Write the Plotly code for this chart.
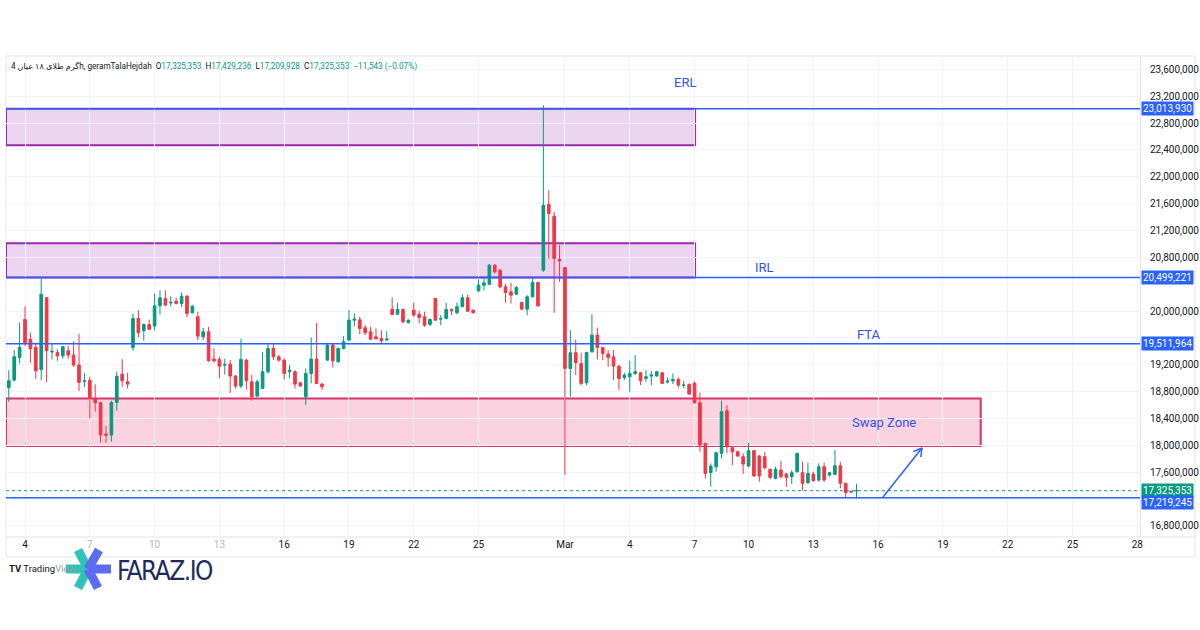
import plotly.graph_objects as go

# ---------------- data (prices in millions) ----------------
opens = [18.858, 18.972, 19.31, 19.875, 19.58, 19.46, 19.13, 20.20, 19.39, 19.384,
         19.334, 19.41, 19.345, 19.196, 18.95, 18.97, 18.70, 18.635, 18.17, 18.154,
         18.64, 19.06, 18.947, 19.458, 19.89, 19.706, 19.80, 19.776, 20.078, 20.188,
         20.12, 20.148, 20.113, 20.222, 19.974, 19.915, 19.617, 19.692, 19.285, 19.28,
         19.195, 19.21, 19.032, 18.883, 19.27, 18.947, 18.734, 18.848, 19.096, 19.444,
         19.32, 19.27, 19.096, 19.096, 18.932, 18.724, 19.07, 19.285, 18.913, 19.27,
         19.493, 19.245, 19.444, 19.568, 19.865, 19.87, 19.751, 19.692, 19.617, 19.592,
         19.568, 20.029, 19.954, 20.024, 19.826, 20.014, 19.954, 19.915, 19.801, 20.188,
         19.88, 19.89, 20.024, 19.974, 20.064, 20.198, 20.014, 20.302, 20.386, 20.401,
         20.684, 20.609, 20.361, 20.287, 20.252, 20.128, 20.029, 20.212, 20.426, 20.609,
         21.586, 21.413, 20.768, 20.649, 19.146, 19.379, 19.22, 18.932, 19.394, 19.642,
         19.458, 19.359, 19.32, 19.18, 19.012, 19.022, 19.071, 19.081, 18.997, 19.032,
         19.032, 19.081, 18.943, 18.962, 18.982, 18.893, 18.908, 18.923, 18.635, 18.03,
         17.593, 17.682, 17.881, 18.516, 17.965, 17.906, 17.831, 17.692, 17.921, 17.841,
         17.831, 17.643, 17.509, 17.633, 17.573, 17.534, 17.608, 17.593, 17.445, 17.573,
         17.484, 17.682, 17.558, 17.568, 17.697, 17.435, 17.316, 17.325353]
highs = [19.12, 19.42, 19.83, 20.07, 19.68, 19.53, 20.485, 20.21, 19.52, 19.43,
         19.48, 19.48, 19.55, 19.66, 19.08, 19.02, 18.91, 18.65, 18.29, 18.665,
         19.097, 19.285, 19.08, 19.964, 20.014, 19.816, 19.875, 20.262, 20.31, 20.31,
         20.22, 20.198, 20.277, 20.237, 20.088, 19.99, 19.751, 19.766, 19.444, 19.32,
         19.29, 19.27, 19.047, 19.59, 19.29, 19.047, 18.982, 19.394, 19.518, 19.518,
         19.345, 19.295, 19.2, 19.12, 18.947, 19.146, 19.607, 19.825, 18.93, 19.528,
         19.518, 19.458, 19.627, 20.014, 19.964, 19.915, 19.79, 19.766, 19.741, 19.716,
         19.702, 20.202, 20.123, 20.039, 19.875, 20.128, 20.004, 19.99, 19.89, 20.19,
         19.94, 20.123, 20.039, 20.128, 20.247, 20.247, 20.024, 20.47, 20.485, 20.698,
         20.698, 20.62, 20.401, 20.421, 20.371, 20.138, 20.237, 20.485, 20.436, 23.064,
         21.80, 21.477, 20.981, 20.659, 19.716, 19.577, 19.379, 19.394, 19.954, 19.756,
         19.468, 19.419, 19.419, 19.195, 19.082, 19.26, 19.344, 19.096, 19.121, 19.106,
         19.111, 19.096, 19.012, 19.071, 19.012, 18.962, 18.923, 18.948, 18.784, 18.04,
         17.732, 17.906, 18.665, 18.6, 17.98, 17.921, 17.881, 18.04, 17.93, 17.856,
         17.906, 17.658, 17.682, 17.772, 17.593, 17.633, 17.891, 17.757, 17.742, 17.608,
         17.732, 17.742, 17.608, 17.93, 17.757, 17.445, 17.325, 17.429236]
lows = [18.65, 18.95, 19.22, 19.48, 19.23, 18.99, 18.97, 18.94, 19.28, 19.26,
        19.29, 19.29, 19.17, 18.81, 18.87, 18.40, 18.50, 18.04, 18.04, 18.055,
        18.516, 18.873, 18.85, 19.41, 19.607, 19.558, 19.716, 19.716, 19.95, 20.07,
        20.07, 20.098, 20.06, 19.905, 19.964, 19.568, 19.568, 19.245, 19.23, 19.0,
        19.05, 18.78, 18.848, 18.85, 18.83, 18.665, 18.724, 18.84, 19.07, 19.27,
        19.245, 18.98, 19.0, 18.848, 18.873, 18.60, 18.923, 18.913, 18.823, 19.26,
        19.16, 19.23, 19.43, 19.56, 19.776, 19.657, 19.642, 19.577, 19.577, 19.508,
        19.558, 19.94, 19.94, 19.816, 19.816, 19.915, 19.816, 19.766, 19.78, 19.855,
        19.79, 19.875, 19.94, 19.954, 20.06, 19.99, 19.964, 20.287, 20.31, 20.386,
        20.56, 20.336, 20.123, 20.113, 20.237, 20.014, 19.94, 20.202, 20.064, 20.584,
        20.783, 19.974, 20.435, 17.559, 18.724, 19.047, 18.898, 18.898, 19.38, 19.28,
        19.27, 19.17, 18.972, 18.823, 18.972, 18.799, 19.047, 18.898, 18.948, 18.898,
        19.022, 18.913, 18.923, 18.913, 18.858, 18.848, 18.749, 18.625, 17.906, 17.509,
        17.385, 17.608, 17.806, 17.881, 17.707, 17.831, 17.573, 17.682, 17.534, 17.459,
        17.643, 17.494, 17.494, 17.509, 17.385, 17.425, 17.593, 17.325, 17.425, 17.459,
        17.459, 17.459, 17.534, 17.558, 17.36, 17.211, 17.296, 17.209928]
closes = [18.962, 19.32, 19.46, 19.528, 19.44, 19.11, 20.25, 19.41, 19.40, 19.334,
          19.468, 19.345, 19.196, 18.938, 18.96, 18.71, 18.635, 18.154, 18.15, 18.64,
          19.03, 18.962, 18.913, 19.89, 19.677, 19.80, 19.73, 20.078, 20.198, 20.09,
          20.13, 20.113, 20.222, 19.964, 20.073, 19.627, 19.692, 19.26, 19.26, 19.18,
          19.205, 19.032, 18.883, 19.28, 18.962, 18.724, 18.947, 19.096, 19.444, 19.32,
          19.27, 19.07, 19.12, 18.913, 18.883, 19.07, 19.285, 18.923, 18.873, 19.493,
          19.26, 19.444, 19.543, 19.865, 19.88, 19.74, 19.677, 19.582, 19.587, 19.558,
          19.582, 19.95, 20.024, 19.84, 19.865, 19.94, 19.905, 19.79, 19.875, 19.865,
          19.89, 20.024, 20.004, 20.064, 20.198, 19.999, 19.974, 20.386, 20.42, 20.684,
          20.584, 20.361, 20.277, 20.237, 20.351, 20.029, 20.212, 20.426, 20.078, 21.576,
          21.452, 20.783, 20.748, 19.146, 19.379, 19.23, 18.923, 19.384, 19.642, 19.458,
          19.369, 19.31, 19.18, 18.997, 19.047, 19.071, 19.096, 18.962, 19.022, 19.047,
          19.096, 18.923, 18.957, 18.982, 18.898, 18.898, 18.764, 18.635, 18.005, 17.583,
          17.692, 17.891, 18.501, 17.98, 17.906, 17.841, 17.722, 17.921, 17.544, 17.544,
          17.668, 17.524, 17.643, 17.534, 17.524, 17.593, 17.881, 17.435, 17.583, 17.474,
          17.682, 17.484, 17.593, 17.697, 17.435, 17.296, 17.306, 17.325353]

# x-axis: candle index ticks (first 4h candle of each labelled day)
tick_index = [3, 15, 27, 39, 51, 63, 75, 87, 103, 115, 127, 137, 149, 161, 173, 185, 197, 209]
tick_labels = ["4", "7", "10", "13", "16", "19", "22", "25", "Mar",
               "4", "7", "10", "13", "16", "19", "22", "25", "28"]

# key levels
erl_level = 23013930
irl_level = 20499221
fta_level = 19511964
support_level = 17219245
last_price = 17325353
erl_zone = (22470000, 23013930)
irl_zone = (20499221, 21010000)
swap_zone = (17990000, 18700000)
y_ticks = list(range(16800000, 23600001, 400000))
# axis ticks whose labels sit under the level labels
y_ticks_hidden = [20400000, 19600000, 17200000]

M = 1e6
O = [v * M for v in opens]
H = [v * M for v in highs]
L = [v * M for v in lows]
C = [v * M for v in closes]
x_idx = list(range(len(O)))

UP = "#089981"
DN = "#F23645"
BLUE = "#2962FF"
FONT = "Roboto, 'DejaVu Sans', sans-serif"

# pixel helpers for decorations (plot area: x 6..1140, y 56..537)
PL, PR, PT, PB = 6, 1140, 56, 537
def px(xp):
    return (xp - PL) / (PR - PL)
def py(yp):
    return (PB - yp) / (PB - PT)

fig = go.Figure()
fig.add_trace(go.Candlestick(
    x=x_idx, open=O, high=H, low=L, close=C,
    increasing=dict(line=dict(color=UP, width=1), fillcolor=UP),
    decreasing=dict(line=dict(color=DN, width=1), fillcolor=DN),
    whiskerwidth=0, hoverinfo="skip", showlegend=False,
))

shapes = []
# zones
for z, fill, line in [(erl_zone, "rgba(156,39,176,0.2)", "#9C27B0"),
                      (irl_zone, "rgba(156,39,176,0.2)", "#9C27B0")]:
    shapes.append(dict(type="rect", xref="x", yref="y", x0=-0.52, x1=127.1,
                       y0=z[0], y1=z[1], fillcolor=fill,
                       line=dict(color=line, width=2), layer="below"))
shapes.append(dict(type="rect", xref="x", yref="y", x0=-0.52, x1=180.0,
                   y0=swap_zone[0], y1=swap_zone[1], fillcolor="rgba(233,30,99,0.2)",
                   line=dict(color="#D6336C", width=2), layer="below"))
# horizontal levels
for lvl in [erl_level, irl_level, fta_level, support_level]:
    shapes.append(dict(type="line", xref="paper", yref="y", x0=0, x1=1, y0=lvl, y1=lvl,
                       line=dict(color=BLUE, width=1.5), layer="above"))
shapes.append(dict(type="line", xref="paper", yref="y", x0=0, x1=1, y0=last_price, y1=last_price,
                   line=dict(color=UP, width=1, dash="dot"), layer="above"))
# arrow (shaft + open head)
shapes.append(dict(type="line", xref="paper", yref="paper", x0=px(883), y0=py(497),
                   x1=px(922), y1=py(448), line=dict(color=BLUE, width=1.5)))
shapes.append(dict(type="line", xref="paper", yref="paper", x0=px(913.5), y0=py(451.5),
                   x1=px(922), y1=py(448), line=dict(color=BLUE, width=1.5)))
shapes.append(dict(type="line", xref="paper", yref="paper", x0=px(920.8), y0=py(457),
                   x1=px(922), y1=py(448), line=dict(color=BLUE, width=1.5)))
# outer frame + axis area border
shapes.append(dict(type="rect", xref="paper", yref="paper", x0=px(6), x1=px(1195),
                   y0=py(557), y1=py(56), line=dict(color="#E0E3EB", width=1),
                   fillcolor="rgba(0,0,0,0)", layer="below"))
shapes.append(dict(type="line", xref="paper", yref="paper", x0=px(6), x1=px(1195),
                   y0=py(537), y1=py(537), line=dict(color="#E0E3EB", width=1)))
# FARAZ logo mark
cx, cy = 88, 569
teal, periw = "#2EC4B6", "#5C6CF0"
for (ex, ey, col) in [(78, 550, teal), (66, 569, teal), (78, 588, teal),
                      (99, 550, periw), (111, 569, periw), (98, 588, periw)]:
    shapes.append(dict(type="line", xref="paper", yref="paper", x0=px(cx), y0=py(cy),
                       x1=px(ex), y1=py(ey), line=dict(color=col, width=9)))

annotations = []
# header
G = "<span style='color:#089981'>"
hdr = ("گرم طلای ۱۸ عیار, 4h, geramTalaHejdah&nbsp; "
       f"O{G}17,325,353</span>&nbsp; "
       f"H{G}17,429,236</span>&nbsp; "
       f"L{G}17,209,928</span>&nbsp; "
       f"C{G}17,325,353</span>&nbsp; "
       f"{G}−11,543 (−0.07%)</span>")
annotations.append(dict(xref="paper", yref="paper", x=px(9), y=py(67), xanchor="left",
                        yanchor="middle", text=hdr, showarrow=False,
                        font=dict(family=FONT, size=8.2, color="#131722")))
# zone / level texts
for txt, xv, yv in [("ERL", 125.2, 23407000), ("IRL", 140.0, 20654000),
                    ("FTA", 159.3, 19657000), ("Swap Zone", 162.1, 18347000)]:
    annotations.append(dict(xref="x", yref="y", x=xv, y=yv, text=txt, showarrow=False,
                            font=dict(family=FONT, size=13, color="#2F55E8")))
# price labels on axis
for lvl, col, ys in [(erl_level, BLUE, 0), (irl_level, BLUE, 0), (fta_level, BLUE, 0),
                     (last_price, UP, 0), (support_level, BLUE, -5)]:
    annotations.append(dict(xref="paper", yref="y", x=1, y=lvl, xanchor="left",
                            yanchor="middle", xshift=1, yshift=ys,
                            text=f"{lvl:,}", showarrow=False, bgcolor=col, borderpad=1,
                            font=dict(family=FONT, size=10, color="white")))
# bottom branding
annotations.append(dict(xref="paper", yref="paper", x=px(7), y=py(568), xanchor="left",
                        yanchor="middle", showarrow=False,
                        text="<b>TV</b> Trading<span style='color:#9598a1'>View</span>",
                        font=dict(family=FONT, size=9.5, color="#131722")))
annotations.append(dict(xref="paper", yref="paper", x=px(115), y=py(571), xanchor="left",
                        yanchor="middle", showarrow=False,
                        text="<span style='letter-spacing:-1.5px'>FARAZ.IO</span>",
                        font=dict(family="'DejaVu Sans Condensed', 'Liberation Sans Narrow', sans-serif",
                                  size=26, color="#1F2B5E")))

tick_text_styled = []
for i, t in enumerate(tick_labels):
    if i in (1, 2, 3):
        tick_text_styled.append(f"<span style='color:#b2b5be'>{t}</span>")
    else:
        tick_text_styled.append(t)

y_text = ["" if v in y_ticks_hidden else f"{v:,}" for v in y_ticks]

fig.update_layout(
    width=1200, height=630,
    margin=dict(l=PL, r=1200 - PR, t=PT, b=630 - PB, autoexpand=False),
    paper_bgcolor="white", plot_bgcolor="white",
    showlegend=False,
    shapes=shapes, annotations=annotations,
    font=dict(family=FONT, size=10, color="#131722"),
    xaxis=dict(range=[-0.52, 209.5], tickmode="array", tickvals=tick_index,
               ticktext=tick_text_styled, showgrid=True, gridcolor="#F0F3FA",
               zeroline=False, showline=False, ticks="", rangeslider=dict(visible=False),
               tickfont=dict(size=10, color="#131722"), fixedrange=True, automargin=False),
    yaxis=dict(side="right", range=[16636000, 23798000], tickmode="array",
               tickvals=y_ticks, ticktext=y_text,
               showgrid=True, gridcolor="#F0F3FA", zeroline=False,
               showline=True, linecolor="#E0E3EB", ticks="", ticklabelstandoff=7,
               tickfont=dict(size=10, color="#131722"), fixedrange=True, automargin=False),
)

fig.write_html("out.html")
